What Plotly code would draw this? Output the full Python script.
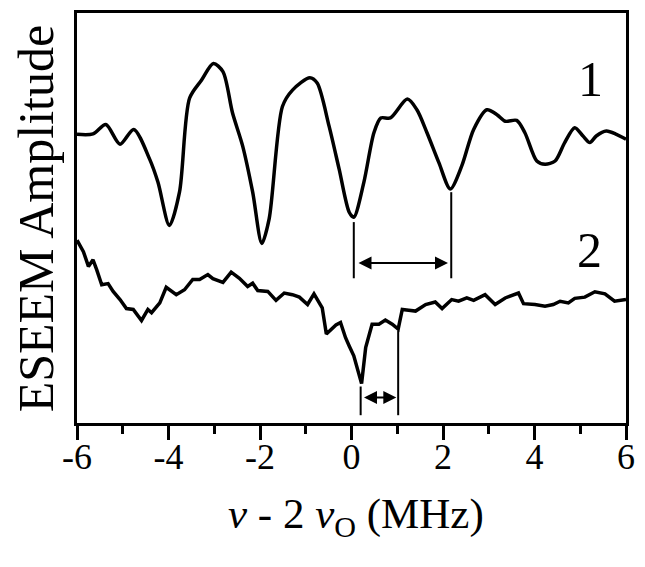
import plotly.graph_objects as go

# Trace 1 (upper, smooth ESEEM spectrum)
x1 = [-6.0, -5.65, -5.37, -5.06, -4.76, -4.41, -4.23, -3.98, -3.76, -3.54,
      -3.28, -3.02, -2.81, -2.60, -2.38, -2.16, -1.96, -1.80, -1.51, -1.29,
      -0.91, -0.75, -0.49, -0.27, -0.05, 0.05, 0.27, 0.49, 0.64, 0.85,
      1.22, 1.43, 1.65, 1.91, 2.16, 2.41, 2.67, 2.96, 3.18, 3.36,
      3.61, 3.79, 4.05, 4.23, 4.45, 4.66, 4.88, 5.06, 5.21, 5.35,
      5.57, 5.79, 6.0]
y1 = [70.4, 70.5, 72.8, 68.0, 71.6, 64.3, 58.7, 48.2, 56.3, 79.2,
      83.6, 87.7, 85.7, 75.6, 67.6, 56.3, 43.8, 49.8, 77.2, 81.2,
      84.2, 82.9, 72.4, 61.9, 51.4, 50.2, 58.7, 70.8, 74.4, 74.4,
      79.0, 76.4, 70.8, 63.5, 57.1, 62.7, 71.6, 76.4, 75.2, 73.6,
      73.8, 70.8, 63.9, 63.1, 63.9, 68.4, 72.0, 70.0, 68.4, 70.0,
      71.2, 70.4, 69.2]

# Trace 2 (lower, noisy)
x2 = [-6.0, -5.86, -5.75, -5.65, -5.57, -5.46, -5.32, -5.21, -5.06, -4.92,
      -4.77, -4.59, -4.45, -4.37, -4.19, -4.05, -3.83, -3.65, -3.47, -3.32,
      -3.14, -3.03, -2.81, -2.63, -2.45, -2.27, -2.16, -2.05, -1.83, -1.65,
      -1.47, -1.29, -1.14, -0.96, -0.82, -0.64, -0.55, -0.42, -0.34, -0.24,
      -0.13, -0.05, 0.05, 0.22, 0.31, 0.45, 0.60, 0.74, 0.89, 1.02,
      1.11, 1.25, 1.40, 1.62, 1.83, 1.98, 2.19, 2.34, 2.52, 2.67,
      2.92, 3.14, 3.36, 3.65, 3.76, 4.01, 4.23, 4.41, 4.56, 4.74,
      4.88, 5.10, 5.32, 5.54, 5.75, 6.0]
y2 = [44.6, 41.8, 38.2, 39.8, 37.4, 33.7, 34.0, 32.1, 30.1, 27.9,
      27.7, 25.0, 27.7, 26.9, 29.3, 33.1, 31.3, 32.5, 35.0, 35.0,
      36.2, 35.2, 34.3, 36.8, 35.3, 33.3, 34.1, 32.3, 32.1, 29.9,
      31.7, 31.3, 30.7, 28.9, 31.5, 28.1, 21.7, 23.1, 23.9, 24.5,
      20.8, 18.8, 16.4, 9.6, 18.4, 24.1, 24.1, 25.1, 24.1, 22.9,
      27.7, 27.5, 27.3, 28.9, 29.5, 27.9, 30.1, 29.7, 30.5, 29.9,
      31.3, 28.9, 30.5, 31.7, 29.1, 28.9, 28.5, 28.9, 29.7, 29.3,
      30.4, 30.7, 32.0, 31.5, 29.7, 30.1]

tick_vals = [-6, -4, -2, 0, 2, 4, 6]
tick_text = ['-6', '-4', '-2', '0', '2', '4', '6']

font_serif = 'Liberation Serif'

fig = go.Figure()
fig.add_trace(go.Scatter(x=x1, y=y1, mode='lines',
                         line=dict(color='black', width=3.5, shape='spline', smoothing=0.8)))
fig.add_trace(go.Scatter(x=x2, y=y2, mode='lines',
                         line=dict(color='black', width=3.5)))

# splitting markers: vertical lines
for x0, ya, yb in [(0.05, 49.0, 35.3), (2.18, 56.3, 35.3), (0.20, 8.9, 1.9), (1.02, 22.5, 1.9)]:
    fig.add_shape(type='line', x0=x0, x1=x0, y0=ya, y1=yb,
                  line=dict(color='black', width=2))

# double-headed arrows
for xa, xb, yy in [(0.12, 2.11, 39.0), (0.24, 0.98, 6.2)]:
    fig.add_annotation(x=xb, y=yy, ax=xa, ay=yy, xref='x', yref='y', axref='x', ayref='y',
                       text='', showarrow=True, arrowhead=2, arrowside='end+start',
                       arrowsize=1.3, arrowwidth=2, arrowcolor='black')

fig.add_annotation(x=5.22, y=83.8, text='1', showarrow=False,
                   font=dict(family=font_serif, size=50, color='black'))
fig.add_annotation(x=5.2, y=42.3, text='2', showarrow=False,
                   font=dict(family=font_serif, size=50, color='black'))

# axis titles
fig.add_annotation(xref='paper', yref='paper', x=-0.074, y=0.5, xanchor='center', yanchor='middle',
                   textangle=-90, text='ESEEM Amplitude', showarrow=False,
                   font=dict(family=font_serif, size=50, color='black'))
fig.add_annotation(xref='paper', yref='paper', x=0.508, y=-0.23, xanchor='center', yanchor='middle',
                   text='<i>ν</i> - 2 <i>ν</i><sub>O</sub> (MHz)', showarrow=False,
                   font=dict(family=font_serif, size=43, color='black'))

# the page body has an 8px margin, so the figure is sized to fit inside it
fig.update_layout(
    width=629, height=551,
    margin=dict(l=69, r=9, t=2, b=136),
    showlegend=False,
    plot_bgcolor='white', paper_bgcolor='white',
    xaxis=dict(range=[-6, 6], tickvals=tick_vals, ticktext=tick_text,
               ticks='outside', ticklen=14, tickwidth=3, tickcolor='black',
               minor=dict(dtick=1, ticks='outside', ticklen=8, tickwidth=3, tickcolor='black'),
               showline=True, linewidth=3, linecolor='black', mirror=True,
               showgrid=False, zeroline=False, ticklabelstandoff=-14,
               tickfont=dict(family=font_serif, size=36, color='black')),
    yaxis=dict(range=[0, 100], showticklabels=False, ticks='',
               showline=True, linewidth=3, linecolor='black', mirror=True,
               showgrid=False, zeroline=False)
)

fig.write_html('out.html')
